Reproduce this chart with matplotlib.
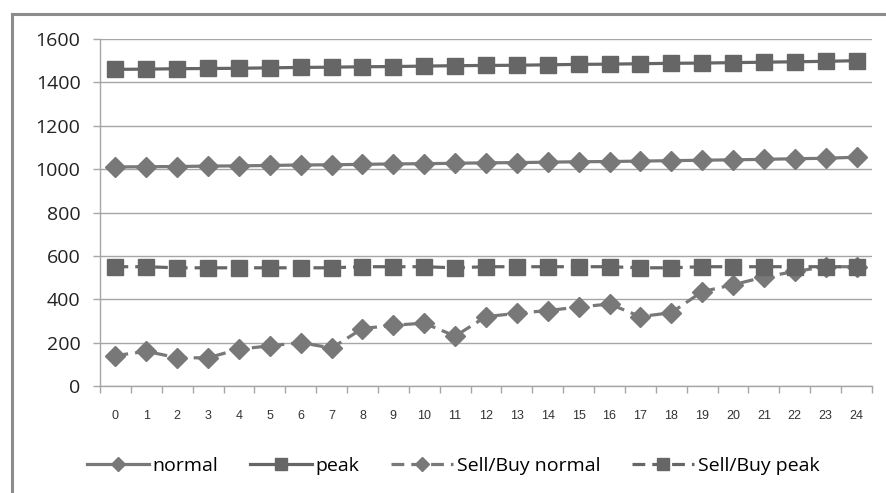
import matplotlib
matplotlib.use("Agg")
import matplotlib.pyplot as plt
from matplotlib.lines import Line2D
import numpy as np

hours = list(range(25))
normal = [1010, 1011, 1012, 1014, 1015, 1017, 1019, 1020, 1022, 1024, 1025, 1027, 1029,
          1030, 1032, 1034, 1035, 1037, 1039, 1041, 1043, 1045, 1048, 1050, 1055]
peak = [1460, 1461, 1463, 1464, 1465, 1467, 1469, 1470, 1472, 1473, 1475, 1477, 1478,
        1479, 1481, 1483, 1484, 1486, 1488, 1489, 1491, 1493, 1495, 1497, 1500]
sb_normal = [140, 160, 130, 130, 170, 185, 200, 175, 265, 280, 290, 230, 320,
             335, 348, 364, 378, 320, 338, 435, 467, 502, 528, 550, 550]
sb_peak = [550, 550, 545, 545, 545, 545, 545, 545, 550, 550, 550, 545, 550,
           550, 550, 550, 550, 545, 545, 550, 550, 550, 550, 550, 550]
yticks = [0, 200, 400, 600, 800, 1000, 1200, 1400, 1600]
labels = ["normal", "peak", "Sell/Buy normal", "Sell/Buy peak"]

fig = plt.figure(figsize=(8.87, 4.93), dpi=100)
ax = fig.add_axes([100/887, 1-386/493, 772/887, 347/493])

axis_col = "#a6a6a6"
dcol = "#787878"
scol = "#666666"

ax.plot(hours, normal, color=dcol, lw=2.3, marker="D", ms=10.5, mec=dcol, mfc=dcol,
        label=labels[0], zorder=3)
ax.plot(hours, peak, color=scol, lw=2.3, marker="s", ms=12, mec=scol, mfc=scol,
        label=labels[1], zorder=3)
ax.plot(hours, sb_normal, color=dcol, lw=2.3, ls=(0, (4, 2.2)), marker="D", ms=10.5,
        mec=dcol, mfc=dcol, label=labels[2], zorder=3)
ax.plot(hours, sb_peak, color=scol, lw=2.3, ls=(0, (4, 2.2)), marker="s", ms=12,
        mec=scol, mfc=scol, label=labels[3], zorder=4)

ax.set_xlim(-0.5, 24.5)
ax.set_ylim(0, 1600)
ax.set_yticks(yticks)
ax.set_yticklabels([str(v) for v in yticks], fontsize=14, family="Open Sans", color="#222222")
ax.set_xticks(hours)
ax.set_xticklabels([str(h) for h in hours], fontsize=9, family="Liberation Sans", color="#333333")
ax.set_xticks(np.arange(-0.5, 25, 1), minor=True)
ax.tick_params(axis="x", which="major", length=0, pad=17)
ax.tick_params(axis="x", which="minor", length=5, color=axis_col, width=1)
ax.tick_params(axis="y", length=5, color=axis_col, width=1, pad=9)

ax.grid(axis="y", color=axis_col, lw=1)
ax.set_axisbelow(True)
for s in ["top", "right"]:
    ax.spines[s].set_visible(False)
for s in ["left", "bottom"]:
    ax.spines[s].set_color(axis_col)
    ax.spines[s].set_linewidth(1)

leg = fig.legend(loc="center", bbox_to_anchor=(453/887, 1-466/493), ncol=4, frameon=False,
                 prop={"family": "Open Sans", "size": 14}, handlelength=3.2,
                 handletextpad=0.2, columnspacing=1.6, markerscale=0.72)

# outer frame
fig.add_artist(Line2D([12/887, 1.0], [1-14/493, 1-14/493], color="#8c8c8c", lw=2.2,
                      transform=fig.transFigure))
fig.add_artist(Line2D([12/887, 12/887], [0, 1-14/493], color="#8c8c8c", lw=2.2,
                      transform=fig.transFigure))

fig.savefig("out.png", dpi=100)
